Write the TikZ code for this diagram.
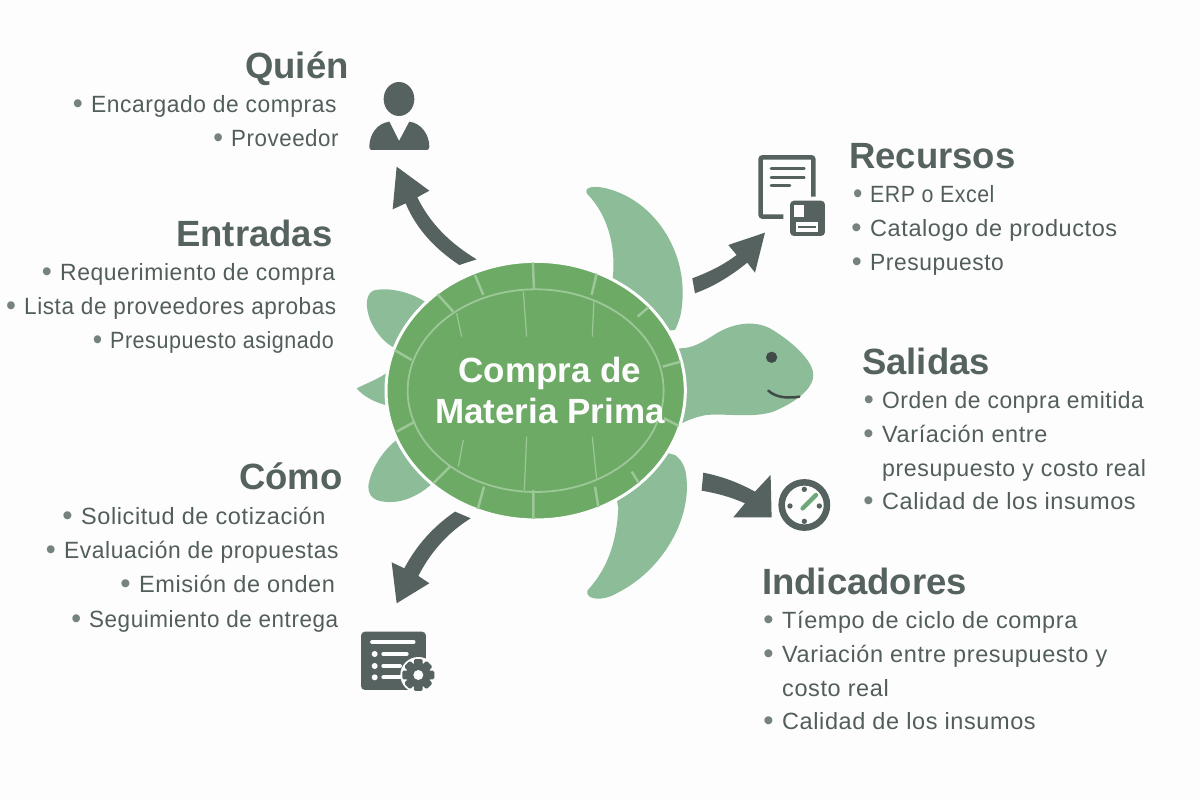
\documentclass[tikz,border=0pt]{standalone}
\usepackage{graphicx}
\usepackage{fontspec}
\setmainfont{Liberation Sans}[LetterSpace=2.5]
\usepackage{tikz}
\definecolor{paper}{HTML}{FDFDFD}
\definecolor{slate}{HTML}{55625F}
\definecolor{inktext}{HTML}{525E5B}
\definecolor{dotgray}{HTML}{75827E}
\definecolor{shell}{HTML}{6DAA66}
\definecolor{ring}{HTML}{9CC897}
\definecolor{flipper}{HTML}{8CBD98}
\definecolor{eye}{HTML}{3F4B47}
\definecolor{hand}{HTML}{6FA878}
\newcommand{\itemdot}{\llap{\textcolor{dotgray}{\raisebox{-.06em}{\scalebox{1.25}{\textbullet}}}\hspace{8.5pt}}}
\tikzset{
  headtext/.style={anchor=base west,inner sep=0pt,text=slate,font=\fontsize{36.5}{37}\selectfont\bfseries\addfontfeature{LetterSpace=0}},
  itemtext/.style={anchor=base west,inner sep=0pt,text=inktext,font=\fontsize{23.5}{24}\selectfont},
  squeeze/.style={transform shape,xscale=#1},
  zoomed/.style={x=.3333pt,y=-.3333pt},
}
\begin{document}
\begin{tikzpicture}[x=1pt,y=-1pt]
  \fill[paper] (0,0) rectangle (1200,800);
  \useasboundingbox (0,0) rectangle (1200,800);
  % turtle
  \begin{scope}[shift={(340,170)},zoomed]
    \fill[flipper] (820,305) .. controls (825,200) and (790,120) .. (740,70) .. controls (730,45) and (780,45) .. (830,65) .. controls (950,110) and (1030,240) .. (1028,370) .. controls (1028,420) and (1020,450) .. (1005,480) -- (800,500) -- cycle;
    \fill[flipper] (835,1015) .. controls (830,1120) and (800,1200) .. (742,1262) .. controls (735,1290) and (790,1295) .. (830,1270) .. controls (970,1200) and (1050,1050) .. (1040,930) .. controls (1038,890) and (1025,870) .. (1005,855) -- (800,800) -- cycle;
    \fill[flipper] (255,395) .. controls (210,365) and (140,350) .. (100,362) .. controls (70,375) and (80,430) .. (95,460) .. controls (110,490) and (135,520) .. (165,535) -- (300,500) -- cycle;
    \fill[flipper] (170,810) .. controls (130,840) and (90,900) .. (85,950) .. controls (85,990) and (120,1000) .. (170,995) .. controls (210,990) and (250,965) .. (272,945) -- (300,800) -- cycle;
    \fill[flipper] (145,605) .. controls (120,625) and (80,640) .. (50,655) .. controls (70,680) and (110,700) .. (145,707) -- (200,660) -- cycle;
    \fill[flipper] (1000,535) -- (1020,535) .. controls (1060,535) and (1090,515) .. (1130,490) .. controls (1180,460) and (1240,450) .. (1290,475) .. controls (1350,510) and (1420,570) .. (1420,615) .. controls (1420,660) and (1360,700) .. (1300,725) .. controls (1240,745) and (1160,730) .. (1100,735) .. controls (1070,740) and (1045,750) .. (1025,760) -- (1000,760) -- cycle;
    \fill[eye] (1295,562) circle[radius=17];
    \draw[eye,line width=2.5pt,line cap=round] (1285,662) .. controls (1310,685) and (1350,685) .. (1378,680);
    % shell
    \filldraw[fill=shell,draw=paper,line width=3pt] (587,662) ellipse[x radius=449,y radius=388];
    \draw[ring,line width=1.8pt] (587,662) ellipse[x radius=384,y radius=304];
    \begin{scope}
      \clip (587,662) ellipse[x radius=446,y radius=385];
      \draw[ring,line width=2.5pt]
        (582,360) -- (578,260)  (755,375) -- (775,290)  (893,440) -- (945,395)
        (968,590) -- (1040,570)  (972,745) -- (1040,780)  (875,905) -- (910,960)
        (765,950) -- (780,1040)  (580,960) -- (580,1060)  (432,950) -- (410,1030)
        (330,890) -- (280,940)  (225,755) -- (170,785)  (215,570) -- (155,535)
        (340,425) -- (290,370)  (430,375) -- (405,315);
    \end{scope}
    \draw[ring,line width=1.2pt]
      (550,365) -- (560,500)  (762,390) -- (757,500)  (350,430) -- (365,500)
      (370,810) -- (355,890)  (560,800) -- (553,960)  (757,800) -- (770,930);
    % arrows
    \fill[slate] (410,268) .. controls (330,220) and (270,160) .. (232,82) -- (268,62) -- (170,-10) -- (158,118) -- (197,100) .. controls (230,180) and (290,240) .. (358,285) -- cycle;
    \fill[slate] (1057,325) .. controls (1110,305) and (1150,285) .. (1190,255) -- (1165,225) -- (1275,188) -- (1245,308) -- (1222,278) .. controls (1170,320) and (1120,350) .. (1065,370) -- cycle;
    \fill[slate] (1090,908) .. controls (1150,920) and (1200,940) .. (1245,965) -- (1292,915) -- (1295,1042) -- (1180,1042) -- (1215,1000) .. controls (1170,980) and (1130,970) .. (1085,962) -- cycle;
    \fill[slate] (345,1025) .. controls (280,1070) and (230,1125) .. (193,1195) -- (155,1177) -- (170,1300) -- (268,1240) -- (235,1218) .. controls (270,1150) and (320,1090) .. (392,1045) -- cycle;
  \end{scope}
  \node[font=\fontsize{35}{41}\selectfont\bfseries\addfontfeature{LetterSpace=0},text=paper,align=center,inner sep=0pt] (title) at (550,390) {Compra de\\Materia Prima};
  % person icon
  \begin{scope}[shift={(340,70)},zoomed]
    \fill[slate] (177,87) ellipse[x radius=46,y radius=51];
    \fill[slate] (148,155) -- (177,213) -- (208,155) .. controls (245,160) and (268,195) .. (268,230) .. controls (268,237) and (265,240) .. (260,240) -- (95,240) .. controls (90,240) and (88,237) .. (88,230) .. controls (88,195) and (110,160) .. (148,155) -- cycle;
  \end{scope}
  % document icon
  \begin{scope}[shift={(745,140)},zoomed]
    \draw[slate,line width=4.5pt,rounded corners=2pt] (205,170) -- (205,52) -- (47,52) -- (47,230) -- (115,230);
    \draw[slate,line width=2.6pt,line cap=round] (78,86) -- (178,86) (78,112) -- (178,112) (78,137) -- (135,137);
    \fill[slate,rounded corners=4pt] (135,182) rectangle (240,288);
    \fill[paper] (148,195) rectangle (176,232);
    \fill[paper] (152,247) rectangle (220,275);
    \draw[slate,line width=2.4pt] (160,261) -- (212,261);
  \end{scope}
  % clock icon
  \begin{scope}[shift={(690,460)},zoomed]
    \draw[slate,line width=6.5pt] (343,135) circle[radius=68];
    \foreach \px/\py in {343/88,300/138,388/138,343/184}
      \fill[slate] (\px,\py) circle[radius=8];
    \draw[hand,line width=4.5pt,line cap=round] (338,145) -- (378,105);
  \end{scope}
  % task icon
  \begin{scope}[shift={(345,620)},zoomed]
    \fill[slate,rounded corners=4pt] (48,35) rectangle (243,210);
    \draw[paper,line width=4.5pt,line cap=round] (82,66) -- (205,66);
    \foreach \py/\pe in {102/185,138/165,172/165}{
      \fill[paper] (89,\py) circle[radius=9];
      \draw[paper,line width=4pt,line cap=round] (115,\py) -- (\pe,\py);
    }
    \fill[paper] (220,165) circle[radius=54];
    \foreach \ang in {0,45,...,315}
      \fill[slate,rounded corners=1.5pt,rotate around={\ang:(220,165)}] (207,117) rectangle (233,140);
    \fill[slate] (220,165) circle[radius=37];
    \fill[paper] (220,165) circle[radius=15];
  \end{scope}
  % left column
  \node[headtext] (quien) at (245,79) {Quién};
  \node[itemtext,squeeze=.97] (quien1) at (91,112) {\itemdot Encargado de compras};
  \node[itemtext,squeeze=.95] (quien2) at (231,146) {\itemdot Proveedor};
  \node[headtext] (entradas) at (176,246) {Entradas};
  \node[itemtext,squeeze=.975] (entradas1) at (60,280) {\itemdot Requerimiento de compra};
  \node[itemtext,squeeze=.96] (entradas2) at (24,314) {\itemdot Lista de proveedores aprobas};
  \node[itemtext,squeeze=.915] (entradas3) at (110,348) {\itemdot Presupuesto asignado};
  \node[headtext] (como) at (239,489) {Cómo};
  \node[itemtext] (como1) at (81,524) {\itemdot Solicitud de cotización};
  \node[itemtext,squeeze=.97] (como2) at (64,558) {\itemdot Evaluación de propuestas};
  \node[itemtext] (como3) at (139,592) {\itemdot Emisión de onden};
  \node[itemtext,squeeze=.955] (como4) at (89,627) {\itemdot Seguimiento de entrega};
  % right column
  \node[headtext] (recursos) at (849,168) {Recursos};
  \node[itemtext,squeeze=.91] (recursos1) at (870,202) {\itemdot ERP o Excel};
  \node[itemtext] (recursos2) at (870,236) {\itemdot Catalogo de productos};
  \node[itemtext,squeeze=.97] (recursos3) at (870,270) {\itemdot Presupuesto};
  \node[headtext] (salidas) at (862,374) {Salidas};
  \node[itemtext,squeeze=.97] (salidas1) at (882,408) {\itemdot Orden de conpra emitida};
  \node[itemtext] (salidas2) at (882,442) {\itemdot Varíación entre};
  \node[itemtext,squeeze=.985] (salidas3) at (882,476) {presupuesto y costo real};
  \node[itemtext] (salidas4) at (882,509) {\itemdot Calidad de los insumos};
  \node[headtext] (indicadores) at (762,594) {Indicadores};
  \node[itemtext] (indicadores1) at (782,628) {\itemdot Tíempo de ciclo de compra};
  \node[itemtext] (indicadores2) at (782,662) {\itemdot Variación entre presupuesto y};
  \node[itemtext] (indicadores3) at (782,696) {costo real};
  \node[itemtext] (indicadores4) at (782,729) {\itemdot Calidad de los insumos};
\end{tikzpicture}
\end{document}
